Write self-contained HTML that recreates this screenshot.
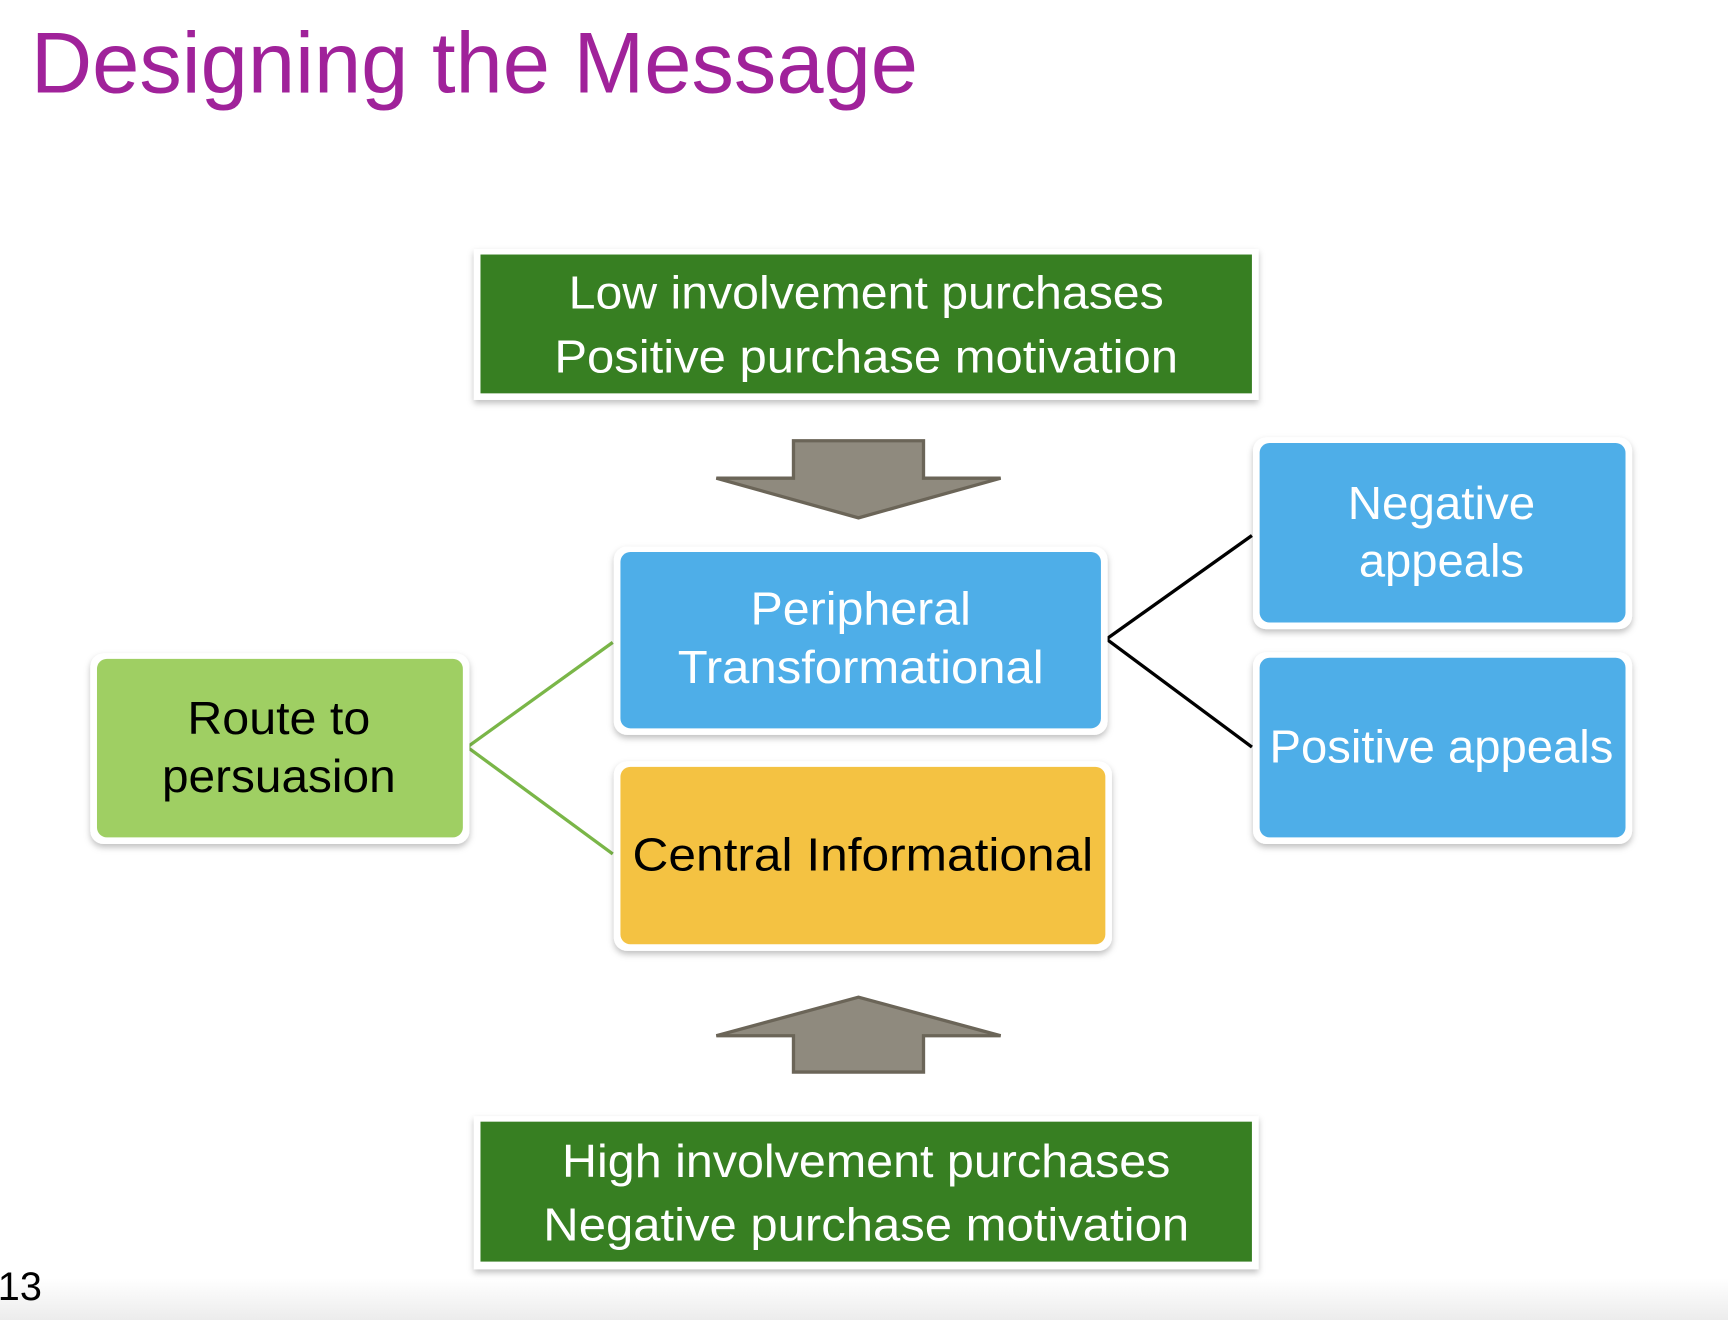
<!DOCTYPE html>
<html><head><meta charset="utf-8"><style>
html,body{margin:0;padding:0;background:#fff;}
svg{display:block;}
text{font-family:"Liberation Sans",sans-serif;}
</style></head><body>
<svg width="1728" height="1320" viewBox="0 0 1568 1198" preserveAspectRatio="none" xmlns="http://www.w3.org/2000/svg">
<defs>
<filter id="sh" x="-10%" y="-10%" width="120%" height="130%"><feDropShadow dx="0" dy="3" stdDeviation="3" flood-color="#000" flood-opacity="0.25"/></filter>
<linearGradient id="bg" x1="0" y1="0" x2="0" y2="1"><stop offset="0" stop-color="#fff"/><stop offset="1" stop-color="#ececec"/></linearGradient>
</defs>
<rect x="0" y="1160" width="1568" height="38" fill="url(#bg)"/>
<text x="28" y="84" font-size="78" fill="#a0229a" textLength="805" lengthAdjust="spacingAndGlyphs">Designing the Message</text>

<g>
<rect x="430" y="226" width="712" height="137" fill="#fff" filter="url(#sh)"/>
<rect x="436" y="231" width="700" height="126" fill="#377f22"/>
<text x="786" y="280" font-size="42" fill="#fff" text-anchor="middle" textLength="540" lengthAdjust="spacingAndGlyphs">Low involvement purchases</text>
<text x="786" y="338" font-size="42" fill="#fff" text-anchor="middle" textLength="566" lengthAdjust="spacingAndGlyphs">Positive purchase motivation</text>
</g>

<polygon points="720,400 838,400 838,434 908,434 779,470 650,434 720,434" fill="#8f8a7e" stroke="#6b6558" stroke-width="3"/>
<polygon points="720,973 838,973 838,940 908,940 779,905 650,940 720,940" fill="#8f8a7e" stroke="#6b6558" stroke-width="3"/>

<line x1="424" y1="678" x2="556" y2="583" stroke="#7ab648" stroke-width="3"/>
<line x1="424" y1="678" x2="556" y2="775" stroke="#7ab648" stroke-width="3"/>
<line x1="1004" y1="580" x2="1136" y2="486" stroke="#000" stroke-width="3"/>
<line x1="1004" y1="580" x2="1136" y2="678" stroke="#000" stroke-width="3"/>

<g>
<rect x="82" y="593" width="344" height="173" rx="12" fill="#fff" filter="url(#sh)"/>
<rect x="88" y="598" width="332" height="162" rx="9" fill="#9fcf63"/>
<text x="253" y="666" font-size="42" fill="#000" text-anchor="middle" textLength="166" lengthAdjust="spacingAndGlyphs">Route to</text>
<text x="253" y="719" font-size="42" fill="#000" text-anchor="middle" textLength="212" lengthAdjust="spacingAndGlyphs">persuasion</text>
</g>

<g>
<rect x="557" y="496" width="448" height="171" rx="12" fill="#fff" filter="url(#sh)"/>
<rect x="563" y="501" width="436" height="160" rx="9" fill="#4eaee8"/>
<text x="781" y="567" font-size="42" fill="#fff" text-anchor="middle" textLength="200" lengthAdjust="spacingAndGlyphs">Peripheral</text>
<text x="781" y="620" font-size="42" fill="#fff" text-anchor="middle" textLength="332" lengthAdjust="spacingAndGlyphs">Transformational</text>
</g>

<g>
<rect x="557" y="691" width="452" height="172" rx="12" fill="#fff" filter="url(#sh)"/>
<rect x="563" y="696" width="440" height="161" rx="9" fill="#f4c242"/>
<text x="783" y="790" font-size="42" fill="#000" text-anchor="middle" textLength="418" lengthAdjust="spacingAndGlyphs">Central Informational</text>
</g>

<g>
<rect x="1137" y="397" width="344" height="174" rx="12" fill="#fff" filter="url(#sh)"/>
<rect x="1143" y="402" width="332" height="163" rx="9" fill="#4eaee8"/>
<text x="1308" y="471" font-size="42" fill="#fff" text-anchor="middle" textLength="170" lengthAdjust="spacingAndGlyphs">Negative</text>
<text x="1308" y="523" font-size="42" fill="#fff" text-anchor="middle" textLength="150" lengthAdjust="spacingAndGlyphs">appeals</text>
</g>

<g>
<rect x="1137" y="592" width="344" height="174" rx="12" fill="#fff" filter="url(#sh)"/>
<rect x="1143" y="597" width="332" height="163" rx="9" fill="#4eaee8"/>
<text x="1308" y="692" font-size="42" fill="#fff" text-anchor="middle" textLength="312" lengthAdjust="spacingAndGlyphs">Positive appeals</text>
</g>

<g>
<rect x="430" y="1013" width="712" height="139" fill="#fff" filter="url(#sh)"/>
<rect x="436" y="1018" width="700" height="127" fill="#377f22"/>
<text x="786" y="1068" font-size="42" fill="#fff" text-anchor="middle" textLength="552" lengthAdjust="spacingAndGlyphs">High involvement purchases</text>
<text x="786" y="1126" font-size="42" fill="#fff" text-anchor="middle" textLength="586" lengthAdjust="spacingAndGlyphs">Negative purchase motivation</text>
</g>

<text x="-2" y="1180" font-size="36" fill="#000">13</text>
</svg>
</body></html>
